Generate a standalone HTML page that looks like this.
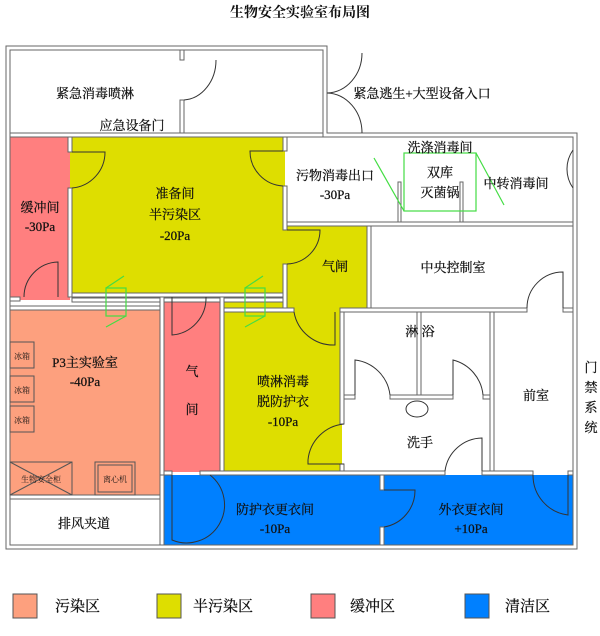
<!DOCTYPE html>
<html><head><meta charset="utf-8"><style>
body{margin:0;background:#fff}
svg text{font-family:"Liberation Serif","Noto Serif CJK SC",serif;fill:#111}
</style></head><body>
<svg width="600" height="631" viewBox="0 0 600 631" xmlns="http://www.w3.org/2000/svg">
<text x="300" y="17" font-size="14" text-anchor="middle" font-weight="bold">生物安全实验室布局图</text>
<rect x="10" y="137" width="60" height="163" fill="#ff7f7f"/>
<rect x="70" y="137" width="215" height="160" fill="#dede00"/>
<rect x="285" y="226" width="84" height="84" fill="#dede00"/>
<rect x="224" y="297" width="118" height="175" fill="#dede00"/>
<rect x="10" y="310" width="150" height="187" fill="#fda07e"/>
<rect x="162" y="297" width="60" height="175" fill="#ff7f7f"/>
<rect x="162" y="475" width="412" height="71" fill="#0080ff"/>
<g fill="#fff" stroke="#666" stroke-width="1">
<path d="M6,46 H327 V133 H577 V549 H6 Z M10,50 V545 H573 V137 H323 V50 Z" fill-rule="evenodd"/>
<rect x="10" y="133" width="313" height="4"/>
<rect x="180" y="50" width="4" height="10"/><rect x="180" y="100" width="4" height="33"/>
<rect x="68" y="137" width="4" height="15"/><rect x="68" y="188" width="4" height="109"/>
<rect x="283" y="137" width="4" height="14"/><rect x="283" y="186" width="4" height="44"/><rect x="283" y="264" width="4" height="44"/>
<rect x="287" y="222" width="286" height="4"/>
<rect x="367" y="226" width="4" height="82"/>
<rect x="340" y="308" width="187" height="4"/><rect x="563" y="308" width="10" height="4"/>
<rect x="72" y="293" width="211" height="4"/><rect x="72" y="298" width="211" height="4"/>
<rect x="10" y="306" width="150" height="4"/><rect x="10" y="297" width="10" height="4"/>
<rect x="224" y="308" width="70" height="4"/>
<rect x="160" y="297" width="4" height="178"/><rect x="220" y="297" width="4" height="178"/>
<rect x="340" y="312" width="4" height="112"/><rect x="340" y="464" width="4" height="8"/>
<rect x="10" y="495" width="150" height="4"/>
<rect x="164" y="471" width="8" height="4"/><rect x="200" y="471" width="245" height="4"/><rect x="482" y="471" width="51" height="4"/><rect x="568" y="471" width="5" height="4"/>
<rect x="380" y="475" width="4" height="15"/><rect x="380" y="527" width="4" height="18"/>
<rect x="417" y="312" width="4" height="83"/><rect x="490" y="312" width="4" height="159"/>
<rect x="344" y="395" width="11" height="4"/><rect x="390" y="395" width="63" height="4"/><rect x="483" y="395" width="7" height="4"/>
<rect x="398" y="182" width="3" height="40"/><rect x="460" y="182" width="3" height="40"/>
<rect x="160" y="475" width="4" height="70"/>
</g>
<g fill="none" stroke="#333" stroke-width="1">
<path d="M216,60 A34,40 0 0 1 184,100"/>
<path d="M362,53 A36,40 0 0 1 327,93 A36,40 0 0 1 362,133"/>
<path d="M72,152 H105 A36,36 0 0 1 72,188"/>
<path d="M283,151 H250 A35,35 0 0 0 283,186"/>
<path d="M287,230 H320 A34,34 0 0 1 287,264"/>
<path d="M294,312 A40,40 0 0 0 335,345 V312"/>
<path d="M527,308 A36,36 0 0 1 563,272 V308"/>
<path d="M573,150 A33,33 0 0 0 573,188"/>
<path d="M24,297 A35,35 0 0 1 58,262 V297"/>
<path d="M172,297 V335 A37,37 0 0 0 206,297"/>
<path d="M344,424 A40,40 0 0 0 308,460 V464 H344"/>
<path d="M355,395 V360 A40,40 0 0 1 390,395"/>
<path d="M453,395 V360 A40,40 0 0 1 483,395"/>
<path d="M445,471 A38,38 0 0 1 482,438 V471"/>
<path d="M172,475 V540 A38,38 0 0 0 210,475"/>
<path d="M384,490 H415 A37,37 0 0 1 384,527"/>
<path d="M533,475 A40,40 0 0 0 568,515 V475"/>
<ellipse cx="417" cy="409" rx="11" ry="8"/>
</g>
<g fill="none" stroke="#44dd44" stroke-width="1.2">
<rect x="404" y="153" width="72" height="58"/>
<path d="M374,158 L404,211 M476,153 L504,205"/>
<rect x="106" y="288" width="20" height="28"/><path d="M106,288 L124,276 M126,316 L106,327"/>
<rect x="245" y="288" width="20" height="28"/><path d="M245,288 L263,276 M265,316 L245,327"/>
</g>
<g fill="none" stroke="#555">
<rect x="10" y="342" width="24" height="26"/><rect x="10" y="376" width="24" height="26"/><rect x="10" y="406" width="24" height="26"/>
<rect x="10" y="462" width="62" height="33"/><path d="M10,462 L72,495 M72,462 L10,495"/>
<rect x="95" y="462" width="40" height="33"/><rect x="98" y="465" width="34" height="27"/>
</g>
<g font-size="13" text-anchor="middle" stroke="#111" stroke-width="0.25">
<text x="95" y="98">紧急消毒喷淋</text>
<text x="132" y="130">应急设备门</text>
<text x="422" y="98">紧急逃生+大型设备入口</text>
<text x="40" y="212">缓冲间</text><text x="40" y="231">-30Pa</text>
<text x="175" y="198">准备间</text><text x="175" y="219">半污染区</text><text x="175" y="240">-20Pa</text>
<text x="335" y="180">污物消毒出口</text><text x="335" y="199">-30Pa</text>
<text x="440" y="152">洗涤消毒间</text>
<text x="440" y="177">双库</text><text x="440" y="197">灭菌锅</text>
<text x="516" y="188">中转消毒间</text>
<text x="335" y="271">气闸</text>
<text x="453" y="272">中央控制室</text>
<text x="85" y="367">P3主实验室</text><text x="85" y="386">-40Pa</text>
<text x="192" y="376">气</text><text x="192" y="414">间</text>
<text x="283" y="386">喷淋消毒</text><text x="283" y="406">脱防护衣</text><text x="283" y="426">-10Pa</text>
<text x="420" y="336">淋 浴</text>
<text x="420" y="447">洗手</text>
<text x="536" y="400">前室</text>
<text x="84" y="528">排风夹道</text>
<text x="275" y="514">防护衣更衣间</text><text x="275" y="533">-10Pa</text>
<text x="471" y="514">外衣更衣间</text><text x="471" y="533">+10Pa</text>
<text x="591" y="372">门</text><text x="591" y="392">禁</text><text x="591" y="412">系</text><text x="591" y="432">统</text>
</g>
<g font-size="8" text-anchor="middle">
<text x="22" y="359">冰箱</text><text x="22" y="393">冰箱</text><text x="22" y="423">冰箱</text>
<text x="41" y="482">生物安全柜</text><text x="115" y="482">离心机</text>
</g>
<g stroke="#555">
<rect x="13" y="594" width="24" height="24" fill="#fda07e"/>
<rect x="157" y="594" width="24" height="24" fill="#dede00"/>
<rect x="311" y="594" width="24" height="24" fill="#ff7f7f"/>
<rect x="465" y="594" width="24" height="24" fill="#0080ff"/>
</g>
<g font-size="15" stroke="#111" stroke-width="0.25">
<text x="55" y="611">污染区</text><text x="193" y="611">半污染区</text><text x="350" y="611">缓冲区</text><text x="505" y="611">清洁区</text>
</g>
</svg>
</body></html>
